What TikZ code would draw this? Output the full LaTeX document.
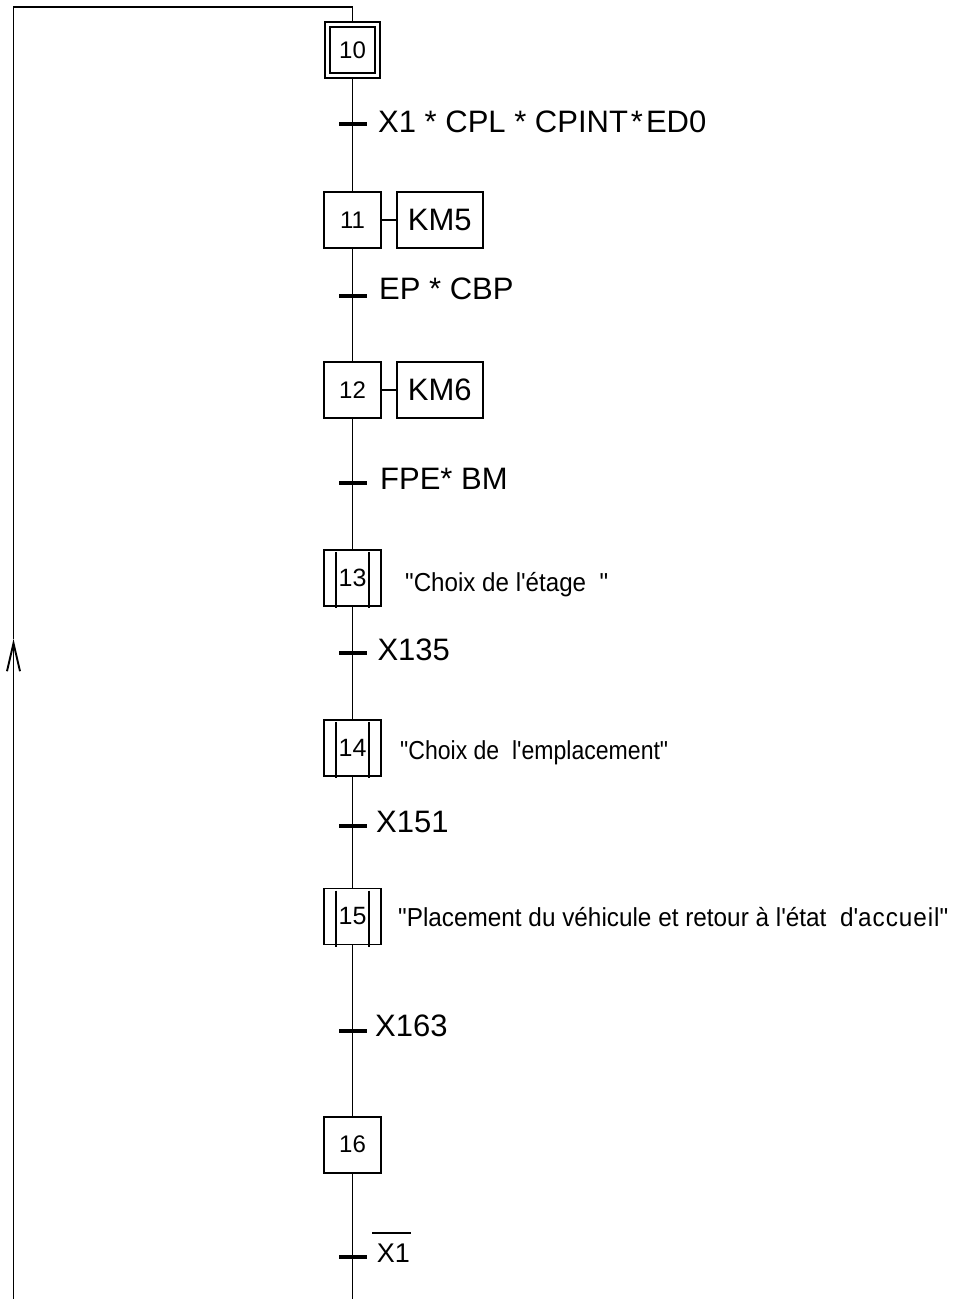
\documentclass[tikz,border=0pt]{standalone}
\usepackage{fontspec}
\usepackage{graphicx}
\setmainfont{Liberation Sans}
\usetikzlibrary{arrows.meta}
\newcommand{\dq}{\textquotedbl}
\newcommand{\sq}{\textquotesingle}
\tikzset{
  ln/.style={line width=1.9pt},
  stepbox/.style={draw, line width=1.9pt, minimum width=56.4pt, minimum height=56pt, inner sep=0pt, font=\fontsize{24}{28}\selectfont},
  macrobox/.style={stepbox, font=\fontsize{25}{29}\selectfont},
  actbox/.style={draw, line width=1.9pt, minimum width=86pt, minimum height=56pt, inner sep=0pt, font=\fontsize{31}{36}\selectfont},
  ticktr/.style={line width=4pt},
  tlabel/.style={anchor=base west, inner sep=0pt, font=\fontsize{31}{36}\selectfont},
  comment/.style={anchor=base west, inner sep=0pt, font=\fontsize{26}{30}\selectfont},
}
\begin{document}
\begin{tikzpicture}[x=1pt,y=-1pt]
\useasboundingbox (0,0) rectangle (955,1299);
% steps
\node[stepbox, minimum width=55pt, minimum height=56pt] (s10) at (352.5,50) {};
\node[stepbox, minimum width=45.3pt, minimum height=46pt] (s10i) at (352.5,50) {10};
\node[stepbox] (s11) at (352.5,220) {11};
\node[actbox] (a11) at (439.7,220) {KM5};
\node[stepbox] (s12) at (352.5,390) {12};
\node[actbox] (a12) at (439.7,390) {KM6};
\node[macrobox] (s13) at (352.5,577.7) {13};
\node[macrobox] (s14) at (352.5,747.7) {14};
\node[macrobox] (s15) at (352.5,916.5) {15};
\node[stepbox] (s16) at (352.5,1144.7) {16};
% macro-step inner lines
\foreach \s in {s13,s14,s15}{
  \draw[ln] ([shift={(-16.5,3)}]\s.north) -- ([shift={(-16.5,1.5)}]\s.south);
  \draw[ln] ([shift={(16.5,3)}]\s.north) -- ([shift={(16.5,1.5)}]\s.south);
}
% action links
\draw[ln] (s11.east) -- (a11.west);
\draw[ln] (s12.east) -- (a12.west);
% transitions
\coordinate (t1) at (352.5,124);
\coordinate (t2) at (352.5,295.7);
\coordinate (t3) at (352.5,483.3);
\coordinate (t4) at (352.5,653.3);
\coordinate (t5) at (352.5,826);
\coordinate (t6) at (352.5,1031);
\coordinate (t7) at (352.5,1256.7);
\foreach \t in {t1,t2,t3,t4,t5,t6,t7}{
  \draw[ticktr] ([shift={(-13.5,0)}]\t) -- ([shift={(14,0)}]\t);
}
% vertical links
\coordinate (bot) at (352.5,1299);
\coordinate (botL) at (13.5,1299);
\coordinate (atip) at (13.5,639);
\coordinate (topL) at (13.5,7);
\coordinate (topR) at (352.5,7);
\draw[ln] (s10.south) -- (t1) -- (s11.north);
\draw[ln] (s11.south) -- (t2) -- (s12.north);
\draw[ln] (s12.south) -- (t3) -- (s13.north);
\draw[ln] (s13.south) -- (t4) -- (s14.north);
\draw[ln] (s14.south) -- (t5) -- (s15.north);
\draw[ln] (s15.south) -- (t6) -- (s16.north);
\draw[ln] (s16.south) -- (t7) -- (bot);
\draw[ln, -{Straight Barb[length=28pt, width=13pt]}] (botL) -- (atip);
\draw[ln] (atip) -- (topL) -- (topR) -- (s10.north);
% transition labels
\node[tlabel] (l1) at (378,132) {X1 * CPL * CPINT\hspace{3pt}*\hspace{3pt}ED0};
\node[tlabel] (l2) at (379,299) {EP * CBP};
\node[tlabel] (l3) at (380,489) {FPE* BM};
\node[tlabel] (l4) at (377.3,660) {X135};
\node[tlabel] (l5) at (376,832) {X151};
\node[tlabel] (l6) at (375,1036) {X163};
\node[tlabel, font=\fontsize{27}{31}\selectfont] (l7) at (376.7,1262) {X1};
\draw[line width=1.9pt] ([shift={(-4.7,-10)}]l7.north west) -- ([shift={(1,-10)}]l7.north east);
% comments
\node[comment] (c13) at (405,591.7) {\resizebox{203pt}{\height}{\dq Choix de l\sq étage\ \ \dq}};
\node[comment] (c14) at (400,759) {\resizebox{268pt}{\height}{\dq Choix de\ \ l\sq emplacement\dq}};
\node[comment] (c15) at (398,926) {\resizebox{550pt}{\height}{\dq Placement du véhicule et retour à l\sq état\ \ d\sq a\kern1pt c\kern1pt c\kern1pt u\kern1pt e\kern1pt i\kern1pt l\dq}};
\end{tikzpicture}
\end{document}
